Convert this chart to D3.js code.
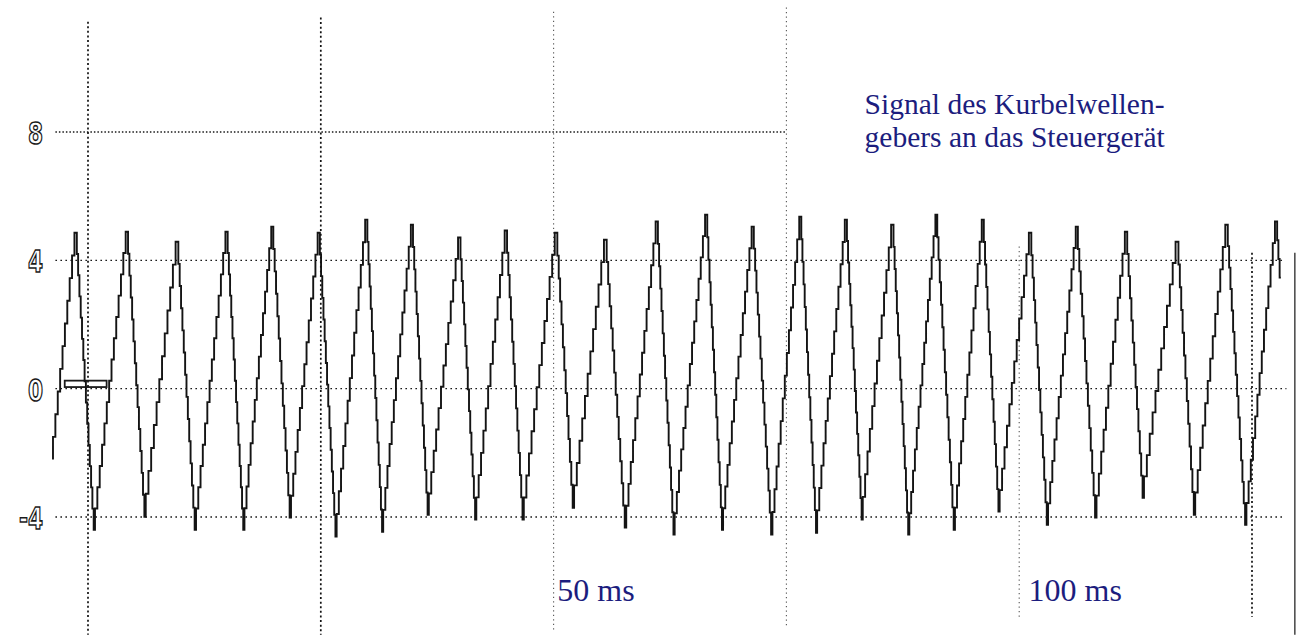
<!DOCTYPE html>
<html>
<head>
<meta charset="utf-8">
<script src="https://cdn.jsdelivr.net/npm/d3@7"></script>
<style>
  body { margin: 0; background: #fff; }
  svg { display: block; }
</style>
</head>
<body>
<div id="chart"></div>
<script>
// crankshaft sensor trace: time in ms, signal in volts
const peakTimes = [-1.2, 4.3, 9.7, 15.0, 19.9, 24.9, 30.0, 34.9, 40.0, 45.0, 50.4, 55.7, 61.2, 66.5, 71.5, 76.6, 81.5, 86.5, 91.2, 96.2, 101.3, 106.3, 111.6, 117.1, 122.4, 127.7]
const peakVolts = [4.86, 4.89, 4.58, 4.89, 5.05, 4.86, 5.27, 5.11, 4.71, 4.93, 4.86, 4.64, 5.21, 5.42, 5.05, 5.36, 5.27, 5.11, 5.42, 5.27, 4.86, 5.05, 4.89, 4.58, 5.11, 5.21]
const troughTimes = [0.75, 6.2, 11.6, 16.8, 21.8, 26.7, 31.7, 36.6, 41.7, 46.8, 52.2, 57.8, 63.0, 68.2, 73.5, 78.3, 83.2, 88.2, 93.1, 97.9, 103.1, 108.3, 113.4, 118.9, 124.4]
const troughVolts = [-4.40, -3.99, -4.40, -4.40, -4.02, -4.61, -4.46, -3.93, -4.08, -4.08, -3.71, -4.33, -4.55, -4.40, -4.55, -4.49, -4.08, -4.55, -4.40, -3.83, -4.24, -4.02, -3.40, -3.93, -4.24]
const traceStart = [-3.76, -2.21]
const traceEnd = [128.1, 3.46]

// scope grid
const yTicks = [8, 4, 0, -4]
const yTickLabels = ['8', '4', '0', '-4']
const levelLineEnd = [75, 128.5, 128.7, 128.5]
const timeGrid = [0, 25, 50, 75, 100, 125]
const timeGridTop = [11.44, 11.57, 11.75, 11.88, 4.43, 4.24]
const timeGridBottom = [-7.67, -7.67, -7.57, -7.45, -7.2, -7.11]
const timeLabels = ['50 ms', '100 ms']
const timeLabelAt = [50.4, 101.0]
const titleLines = ['Signal des Kurbelwellen-', 'gebers an das Steuergerät']

const svgWidth = 1297
const svgHeight = 635

const svg = d3.select('#chart').append('svg')
  .attr('width', svgWidth)
  .attr('height', svgHeight)
  .attr('viewBox', '0 0 ' + svgWidth + ' ' + svgHeight)
  .style('font-family', 'Liberation Serif, Times New Roman, serif')

svg.append('rect')
  .attr('width', svgWidth)
  .attr('height', svgHeight)
  .attr('fill', '#fff')

const x = d3.scaleLinear().domain([0, 125]).range([88, 1252])
const y = d3.scaleLinear().domain([-4, 8]).range([517, 132])

// quantised line: each segment is drawn as small ADC steps
function curveSteps(context) {
  let x0
  let y0
  let started = false
  const stepPx = 22
  return {
    areaStart() {},
    areaEnd() {},
    lineStart() { started = false },
    lineEnd() {},
    point(px, py) {
      if (!started) {
        context.moveTo(px, py)
        started = true
      } else {
        const n = Math.max(1, Math.round(Math.abs(py - y0) / stepPx))
        for (let i = 1; i <= n; i++) {
          const xa = x0 + (px - x0) * (i - 1) / n
          const xb = x0 + (px - x0) * i / n
          const yi = y0 + (py - y0) * i / n
          context.lineTo(xa, yi)
          context.lineTo(xb, yi)
        }
      }
      x0 = px
      y0 = py
    }
  }
}

// dotted level lines
const levels = svg.append('g')
levels.selectAll('line')
  .data(yTicks)
  .enter().append('line')
  .attr('x1', x(-3.5))
  .attr('x2', (d, i) => x(levelLineEnd[i]))
  .attr('y1', d => y(d))
  .attr('y2', d => y(d))
  .attr('stroke', '#1a1a1a')
  .attr('stroke-width', 1.4)
  .attr('stroke-dasharray', (d, i) => i === 0 ? '1.5,2' : '1.6,3.4')

// dotted time lines
const faint = i => i === 2 || i === 3 || i === 4
svg.append('g').selectAll('line')
  .data(timeGrid)
  .enter().append('line')
  .attr('x1', d => x(d))
  .attr('x2', d => x(d))
  .attr('y1', (d, i) => y(timeGridTop[i]))
  .attr('y2', (d, i) => y(timeGridBottom[i]))
  .attr('stroke', (d, i) => faint(i) ? '#555' : '#111')
  .attr('stroke-width', (d, i) => faint(i) ? 1.1 : 1.7)
  .attr('stroke-dasharray', (d, i) => faint(i) ? '1.3,3.2' : '2,2.6')

// scan edge on the right
svg.append('line')
  .attr('x1', x(129.6))
  .attr('x2', x(129.6))
  .attr('y1', y(4.24))
  .attr('y2', y(-7.67))
  .attr('stroke', '#444')
  .attr('stroke-width', 1.5)

// y labels, hollow scope digits
svg.append('g').selectAll('text')
  .data(yTicks)
  .enter().append('text')
  .attr('transform', d => 'translate(' + (x(0) - 45) + ',' + (y(d) + 12) + ') scale(0.7,1)')
  .attr('text-anchor', 'end')
  .style('font-family', 'DejaVu Sans, sans-serif')
  .style('font-weight', 'bold')
  .style('font-size', '31px')
  .attr('fill', '#fff')
  .attr('stroke', '#1a1a1a')
  .attr('stroke-width', 1.6)
  .text((d, i) => yTickLabels[i])

// ground marker at 0 V
svg.append('rect')
  .attr('x', x(-2.5))
  .attr('y', y(0.25))
  .attr('width', x(2.0) - x(-2.5))
  .attr('height', y(0.05) - y(0.25))
  .attr('fill', 'none')
  .attr('stroke', '#1a1a1a')
  .attr('stroke-width', 1.8)

// signal
const trace = [traceStart]
peakTimes.forEach((t, i) => {
  trace.push([t, peakVolts[i]])
  if (i < troughTimes.length) trace.push([troughTimes[i], troughVolts[i]])
})
trace.push(traceEnd)

const line = d3.line()
  .x(d => x(d[0]))
  .y(d => y(d[1]))
  .curve(curveSteps)

svg.append('path')
  .datum(trace)
  .attr('fill', 'none')
  .attr('stroke', '#141414')
  .attr('stroke-width', 1.9)
  .attr('stroke-linejoin', 'miter')
  .attr('d', line)

// annotations
const ink = '#1c1d7e'
svg.append('g').selectAll('text')
  .data(titleLines)
  .enter().append('text')
  .attr('x', x(83.4))
  .attr('y', (d, i) => 114 + i * 33)
  .attr('fill', ink)
  .style('font-size', '29.5px')
  .text(d => d)

svg.append('g').selectAll('text')
  .data(timeLabels)
  .enter().append('text')
  .attr('x', (d, i) => x(timeLabelAt[i]))
  .attr('y', 601)
  .attr('fill', ink)
  .style('font-size', '32px')
  .text(d => d)
</script>
</body>
</html>
